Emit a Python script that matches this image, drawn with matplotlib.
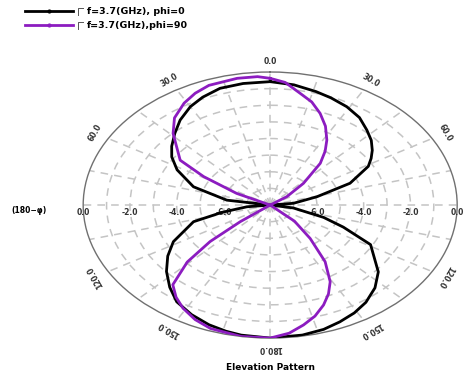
import numpy as np
import matplotlib.pyplot as plt
from matplotlib.lines import Line2D

# Elevation cuts at 3.7 GHz, gain in dB, angle clockwise from zenith (0..360)
black_theta = [0, 8, 16, 22, 29, 36, 42.5, 48, 53, 57, 61, 69, 76, 84, 90,
               100, 108, 113, 119, 131, 138, 145, 151, 157, 163, 170, 180,
               189, 194, 200, 207, 214.5, 221, 228, 235, 242, 253, 258, 264, 270,
               279, 288.5, 298, 304.5, 310, 316.5, 323, 330, 336, 343, 351, 360]
black_gain = [-0.58, -0.7, -0.90, -1.05, -1.24, -1.5, -1.88, -2.18, -2.53, -2.85,
              -3.2, -4.34, -5.94, -7.0, -8.0,
              -7.0, -5.6, -4.6, -3.09, -1.87, -1.3, -0.86, -0.58, -0.37, -0.18,
              -0.06, 0.0,
              -0.08, -0.18, -0.34, -0.6, -0.94, -1.45, -2.03, -2.65, -3.31, -4.57,
              -5.9, -7.0, -8.0,
              -6.12, -4.54, -3.49, -2.89, -2.5, -2.07, -1.6, -1.17, -0.9, -0.66,
              -0.6, -0.58]

purple_theta = [0, 5, 10.8, 16, 21.2, 26.5, 31.8, 36, 40.5, 47.5, 54.7, 62,
                125, 133, 139.6, 145.4, 150.9, 155, 159.2, 164, 168.8, 174, 180,
                189, 199, 205, 211, 216, 221, 226, 229.5, 232, 238,
                290, 296, 301, 305, 316, 322, 329, 334.5, 340, 349.5, 356, 360]
purple_gain = [-0.38, -0.6, -1.16, -1.55, -2.09, -2.7, -3.4, -4.0, -4.7, -6.07,
               -7.13, -8.0,
               -8.0, -6.58, -5.36, -3.86, -2.72, -2.1, -1.57, -1.05, -0.65, -0.25,
               0.0,
               0.0, -0.15, -0.4, -0.76, -1.15, -1.65, -3.07, -4.62, -6.38, -8.0,
               -8.0, -6.4, -4.68, -3.3, -2.02, -1.35, -0.85, -0.55, -0.34, -0.25,
               -0.26, -0.38]

series_labels = ["f=3.7(GHz), phi=0", "f=3.7(GHz),phi=90"]
series_colors = ["black", "#8c1cc0"]

angle_ticks = [0, 30, 60, 120, 150, 180, 210, 240, 300, 330]
angle_labels = ["0.0", "30.0", "60.0", "120.0", "150.0", "180.0",
                "150.0", "120.0", "60.0", "30.0"]
radial_ticks = [-6, -4, -2, 0]
radial_labels = ["-6.0", "-4.0", "-2.0", "0.0"]

fig = plt.figure(figsize=(4.74, 3.79), dpi=100)
ax = fig.add_axes([0.1755, 0.108, 0.789, 0.702], projection="polar")
ax.set_theta_zero_location("N")
ax.set_theta_direction(-1)
ax.set_rlim(-8, 0)

# grid: dashed rings every 1 dB, dashed spokes every 15 deg
ax.set_rticks(np.arange(-7, 0, 1))
ax.set_xticks(np.deg2rad(np.arange(0, 360, 15)))
ax.set_xticklabels([])
ax.set_yticklabels([])
ax.grid(True, color="#c4c4c4", linestyle=(0, (5, 4)), linewidth=1.1)
ax.spines["polar"].set_color("#707070")
ax.spines["polar"].set_linewidth(1.0)

for th, g, c in [(black_theta, black_gain, series_colors[0]),
                 (purple_theta, purple_gain, series_colors[1])]:
    ax.plot(np.deg2rad(th), g, color=c, lw=2.0, zorder=5)

# angle labels, rotated along the rim
for a, lab in zip(angle_ticks, angle_labels):
    ax.text(np.deg2rad(a), 0.65, lab, rotation=-a, rotation_mode="anchor",
            ha="center", va="center", fontsize=5.5, fontweight="bold",
            color="#333333")

# dB labels along the horizontal axis on both sides
for r, lab in zip(radial_ticks, radial_labels):
    for a in (90, 270):
        ax.annotate(lab, xy=(np.deg2rad(a), r), xytext=(0, -2),
                    textcoords="offset points", ha="center", va="top",
                    fontsize=5.5, fontweight="bold", color="#333333", zorder=3)

fig.text(29 / 474, 1 - 210 / 379, "(180\u2212\u03c6)", ha="center", va="center",
         fontsize=5.5, fontweight="bold")
fig.text(270 / 474, 1 - 368 / 379, "Elevation Pattern", ha="center",
         va="center", fontsize=6.5, fontweight="bold")

# legend
handles = [Line2D([], [], color=c, lw=2.0, marker=".", ms=4) for c in series_colors]
fig.legend(handles, series_labels, loc="upper left",
           bbox_to_anchor=(25 / 474, 1 - 7 / 379), frameon=False,
           borderpad=0, borderaxespad=0,
           handlelength=5.1, handletextpad=1.5, labelspacing=0.55,
           prop={"weight": "bold", "size": 6.8})
for y in (8, 22):
    fig.add_artist(Line2D([78 / 474, 78 / 474, 83 / 474],
                          [1 - (y + 7) / 379, 1 - y / 379, 1 - y / 379],
                          color="#555555", lw=0.7, transform=fig.transFigure))

ax.set_aspect("auto")
fig.savefig("out.png", dpi=100)
